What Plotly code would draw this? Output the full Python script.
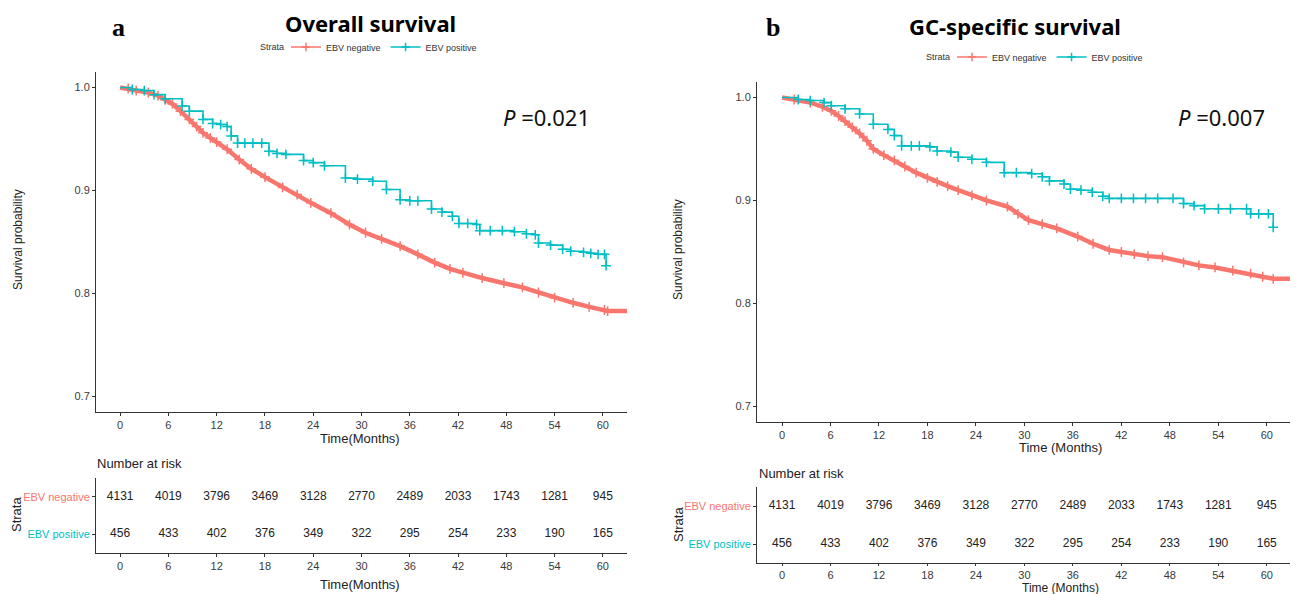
import plotly.graph_objects as go

W, H = 1298, 594
OFF = 8  # page body margin
FW, FH = W - OFF, H - OFF
RED = "#F8766D"
TEAL = "#00BFC4"

months = [0, 6, 12, 18, 24, 30, 36, 42, 48, 54, 60]
risk_neg = [4131, 4019, 3796, 3469, 3128, 2770, 2489, 2033, 1743, 1281, 945]
risk_pos = [456, 433, 402, 376, 349, 322, 295, 254, 233, 190, 165]
y_ticks = [0.7, 0.8, 0.9, 1.0]

# Overall survival, EBV negative
os_neg_t = [0, 1, 2, 3.5, 4.7, 5.6, 6.5, 7.5, 8.6, 9.5, 10.3, 11.2, 12, 13.3, 14.8, 16.3, 18,
            20.2, 22, 23.7, 26.2, 28.5, 30.5, 32.5, 34.8, 37, 39.1, 41, 42.6, 45, 47.7, 50,
            52, 54, 56.3, 58.3, 60.2, 60.6]
os_neg_s = [1.0, 0.999, 0.997, 0.995, 0.992, 0.988, 0.984, 0.977, 0.969, 0.962, 0.956, 0.951,
            0.947, 0.94, 0.930, 0.921, 0.913, 0.903, 0.896, 0.888, 0.878, 0.867, 0.859, 0.853,
            0.846, 0.838, 0.830, 0.824, 0.820, 0.815, 0.810, 0.806, 0.801, 0.796, 0.791,
            0.787, 0.784, 0.783]
# Overall survival, EBV positive
os_pos_t = [0, 1.5, 3, 4.2, 5.6, 7.7, 8.6, 10.3, 11.5, 12.5, 13.3, 13.8, 14.6, 15.5, 16.5, 17.6,
            18.5, 19.5, 20.6, 22.8, 24, 25.4, 28, 29.5, 31.4, 33.1, 34.8, 36, 37, 38.7, 40,
            41.3, 42.1, 43.2, 44.3, 44.7, 46, 47.5, 49, 50.5, 51.6, 52, 53.5, 55, 56, 57.6,
            58.5, 59.4, 60.2, 60.4]
os_pos_s = [1.0, 0.998, 0.997, 0.993, 0.989, 0.982, 0.977, 0.969, 0.965, 0.964, 0.962, 0.953,
            0.946, 0.946, 0.946, 0.946, 0.938, 0.936, 0.935, 0.929, 0.927, 0.924, 0.912, 0.911,
            0.909, 0.901, 0.891, 0.890, 0.890, 0.882, 0.879, 0.875, 0.868, 0.868, 0.867, 0.861,
            0.861, 0.861, 0.860, 0.858, 0.857, 0.849, 0.847, 0.843, 0.841, 0.840, 0.839, 0.838,
            0.838, 0.827]

# GC-specific survival, EBV negative
gc_neg_t = [0, 1.5, 3.5, 5, 6.1, 7, 7.8, 8.7, 9.6, 10.5, 11.3, 12.6, 13.9, 15.2, 16.6, 18,
            19.2, 20.5, 21.8, 23.5, 25.3, 27.9, 29.2, 30.5, 32.2, 34, 36.6, 38.5, 40.5, 42,
            43.6, 45.3, 47.1, 49.7, 51.6, 53.6, 55.8, 58, 59.5, 60.8]
gc_neg_s = [1.0, 0.998, 0.995, 0.991, 0.987, 0.982, 0.977, 0.971, 0.965, 0.958, 0.95, 0.944,
            0.939, 0.933, 0.927, 0.922, 0.918, 0.914, 0.91, 0.905, 0.90, 0.894, 0.887, 0.881,
            0.877, 0.873, 0.865, 0.858, 0.852, 0.850, 0.848, 0.846, 0.845, 0.84, 0.837, 0.835,
            0.832, 0.829, 0.826, 0.824]
# GC-specific survival, EBV positive
gc_pos_t = [0, 2, 3.5, 5.2, 6.1, 7.8, 9.6, 11.3, 13.1, 13.9, 14.8, 16, 17, 18.3, 19.2, 20.9,
            21.8, 23.5, 25.3, 27.5, 29, 30.9, 32.2, 33.1, 34.9, 35.7, 37, 38.4, 39.7, 40.5,
            42, 43.5, 45, 46.5, 48.4, 49.7, 51, 52.3, 54, 55.5, 57.5, 58, 59, 60.2, 60.8]
gc_pos_s = [1.0, 0.998, 0.997, 0.995, 0.992, 0.989, 0.984, 0.974, 0.969, 0.963, 0.953, 0.953,
            0.953, 0.952, 0.948, 0.947, 0.942, 0.940, 0.937, 0.927, 0.927, 0.926, 0.923, 0.919,
            0.916, 0.911, 0.910, 0.908, 0.904, 0.902, 0.902, 0.902, 0.902, 0.902, 0.902, 0.897,
            0.895, 0.892, 0.892, 0.892, 0.892, 0.887, 0.887, 0.887, 0.874]


def px(x):
    return (x - OFF) / FW


def py(y):
    return 1 - (y - OFF) / FH


fig = go.Figure()

FONT = "Liberation Sans"


def add_km(tn, sn, tp, sp, xa, ya, legend_name, tail_end):
    # EBV negative: dense censoring -> thick band
    fig.add_trace(go.Scatter(x=tn + [tail_end], y=sn + [sn[-1]], mode="lines",
                             line=dict(color=RED, width=4.5), xaxis=xa, yaxis=ya,
                             showlegend=False, hoverinfo="skip"))
    fig.add_trace(go.Scatter(x=tn[1:], y=sn[1:], mode="markers",
                             marker=dict(symbol="cross-thin", size=7, color=RED,
                                         line=dict(color=RED, width=1.5)),
                             xaxis=xa, yaxis=ya, showlegend=False, hoverinfo="skip"))
    fig.add_trace(go.Scatter(x=tp, y=sp, mode="lines", line=dict(color=TEAL, width=1.6, shape="hv"),
                             xaxis=xa, yaxis=ya, showlegend=False, hoverinfo="skip"))
    fig.add_trace(go.Scatter(x=tp[1:], y=sp[1:], mode="markers",
                             marker=dict(symbol="cross-thin", size=7, color=TEAL,
                                         line=dict(color=TEAL, width=1.5)),
                             xaxis=xa, yaxis=ya, showlegend=False, hoverinfo="skip"))
    for name, col in (("EBV negative", RED), ("EBV positive", TEAL)):
        fig.add_trace(go.Scatter(x=[None], y=[None], mode="lines+markers", name=name,
                                 line=dict(color=col, width=1.5),
                                 marker=dict(symbol="cross-thin", size=6, color=col,
                                             line=dict(color=col, width=1.5)),
                                 xaxis=xa, yaxis=ya, legend=legend_name))


def add_table(xa, ya):
    fig.add_trace(go.Scatter(x=months, y=[2] * len(months), mode="text",
                             text=[str(v) for v in risk_neg],
                             textfont=dict(family=FONT, size=12, color="#222"),
                             xaxis=xa, yaxis=ya, showlegend=False, hoverinfo="skip"))
    fig.add_trace(go.Scatter(x=months, y=[1] * len(months), mode="text",
                             text=[str(v) for v in risk_pos],
                             textfont=dict(family=FONT, size=12, color="#222"),
                             xaxis=xa, yaxis=ya, showlegend=False, hoverinfo="skip"))


add_km(os_neg_t, os_neg_s, os_pos_t, os_pos_s, "x", "y", "legend", 70)
add_table("x2", "y2")
add_km(gc_neg_t, gc_neg_s, gc_pos_t, gc_pos_s, "x3", "y3", "legend2", 70)
add_table("x4", "y4")

axis_common = dict(showline=True, linecolor="#333", linewidth=1, ticks="outside", ticklen=3,
                   tickcolor="#333", tickfont=dict(family=FONT, size=11, color="#3a3a3a"),
                   showgrid=False, zeroline=False)

L_dom = [px(96), px(627)]
R_dom = [px(757), px(1291)]

strata_ticks = [f"<span style='color:{TEAL}'>EBV positive</span>",
                f"<span style='color:{RED}'>EBV negative</span>"]

fig.update_layout(
    xaxis=dict(domain=L_dom, range=[-3, 63], tickvals=months, anchor="y", **axis_common),
    yaxis=dict(domain=[py(412), py(72)], range=[0.685, 1.015], tickvals=y_ticks,
               tickformat=".1f", anchor="x", **axis_common),
    xaxis2=dict(domain=L_dom, range=[-3, 63], tickvals=months, anchor="y2", **axis_common),
    yaxis2=dict(domain=[py(553), py(478)], range=[0.5, 2.5], tickvals=[1, 2],
                ticktext=strata_ticks, anchor="x2", **axis_common),
    xaxis3=dict(domain=R_dom, range=[-3.1, 63], tickvals=months, anchor="y3", **axis_common),
    yaxis3=dict(domain=[py(422), py(82)], range=[0.685, 1.015], tickvals=y_ticks,
                tickformat=".1f", anchor="x3", **axis_common),
    xaxis4=dict(domain=R_dom, range=[-3.1, 63], tickvals=months, anchor="y4", **axis_common),
    yaxis4=dict(domain=[py(563), py(487)], range=[0.5, 2.5], tickvals=[1, 2],
                ticktext=strata_ticks, anchor="x4", **axis_common),
)
fig.update_layout(xaxis4_ticklen=2)

legend_common = dict(orientation="h", xanchor="center", yanchor="middle", valign="middle",
                     font=dict(family=FONT, size=9, color="#333"),
                     itemwidth=30, bgcolor="rgba(0,0,0,0)", tracegroupgap=0)
fig.update_layout(legend=dict(x=px(384), y=py(47), **legend_common),
                  legend2=dict(x=px(1050), y=py(57), **legend_common))

ann = []


def text(x, y, s, size, family=FONT, color="#111", angle=0, xanchor="center"):
    ann.append(dict(x=px(x), y=py(y), xref="paper", yref="paper", text=s, showarrow=False,
                    font=dict(family=family, size=size, color=color), textangle=angle,
                    xanchor=xanchor, yanchor="middle"))


text(118, 28, "<b>a</b>", 26, family="Liberation Serif", color="#000")
text(370, 23, "<b>Overall survival</b>", 22, family="Noto Sans", color="#000")
text(773, 28, "<b>b</b>", 26, family="Liberation Serif", color="#000")
text(1015, 26, "<b>GC-specific survival</b>", 22, family="Noto Sans", color="#000")
text(286, 47, "Strata", 9, color="#333", xanchor="right")
text(952, 57, "Strata", 9, color="#333", xanchor="right")
text(546, 117, "<i>P</i> =0.021", 22, family="Noto Sans", color="#111")
text(1221, 117, "<i>P</i> =0.007", 22, family="Noto Sans", color="#111")
text(18, 240, "Survival probability", 12, angle=-90, color="#222")
text(678, 250, "Survival probability", 12, angle=-90, color="#222")
text(360, 438, "Time(Months)", 13, color="#222")
text(1060, 447, "Time (Months)", 13, color="#222")
text(95, 463, "Number at risk", 13, color="#222", xanchor="left")
text(757, 473, "Number at risk", 13, color="#222", xanchor="left")
text(16, 515, "Strata", 13, angle=-90, color="#222")
text(678, 525, "Strata", 13, angle=-90, color="#222")
text(360, 584, "Time(Months)", 13, color="#222")
text(1060, 587.5, "Time (Months)", 12, color="#222")

fig.update_layout(annotations=ann, width=FW, height=FH,
                  margin=dict(l=0, r=0, t=0, b=0),
                  paper_bgcolor="white", plot_bgcolor="white")

fig.write_html("out.html")
